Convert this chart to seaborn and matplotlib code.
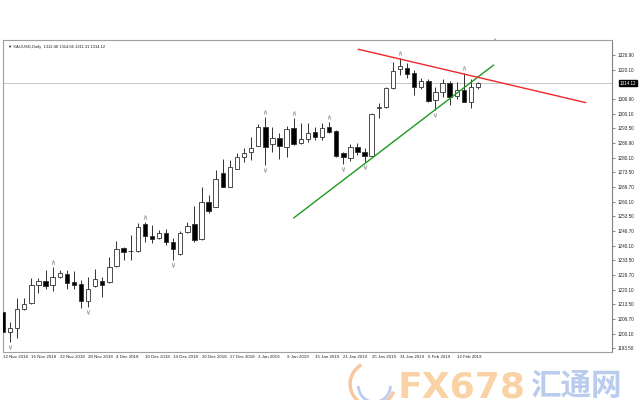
import matplotlib
matplotlib.use("Agg")
import matplotlib.pyplot as plt
import matplotlib.transforms as mtransforms
from matplotlib.patches import Arc
import seaborn as sns
import numpy as np
import pandas as pd

# XAUUSD daily candles, 12 Nov 2018 .. 15 Feb 2019
opens = [1210.0, 1200.6, 1202.4, 1211.1, 1213.8, 1222.2, 1224.0, 1222.2, 1226.0, 1227.0,
         1223.7, 1222.5, 1214.9, 1221.7, 1224.0, 1223.4, 1231.0, 1239.2, 1237.5, 1237.8,
         1249.9, 1244.6, 1243.4, 1246.0, 1241.9, 1236.3, 1246.1, 1249.9, 1243.1, 1260.1,
         1257.8, 1273.0, 1266.9, 1275.0, 1280.6, 1282.6, 1285.6, 1294.0, 1286.4, 1289.0,
         1285.2, 1293.5, 1286.7, 1288.5, 1292.0, 1289.7, 1294.0, 1292.4, 1282.1, 1279.8,
         1284.8, 1282.9, 1280.9, 1302.9, 1303.4, 1311.7, 1320.5, 1321.1, 1318.5, 1312.5,
         1315.2, 1306.4, 1310.2, 1314.0, 1308.2, 1310.9, 1305.6, 1312.48]
highs = [1211.5, 1205.5, 1216.5, 1216.5, 1225.2, 1225.2, 1229.0, 1230.5, 1229.0, 1229.0,
         1228.5, 1224.4, 1226.0, 1229.3, 1225.7, 1235.1, 1242.2, 1239.6, 1244.9, 1250.2,
         1251.0, 1249.5, 1247.2, 1247.5, 1243.4, 1246.9, 1251.0, 1258.1, 1266.9, 1263.1,
         1274.5, 1279.4, 1279.1, 1282.1, 1284.4, 1289.4, 1295.5, 1298.8, 1294.3, 1291.2,
         1294.7, 1298.1, 1295.8, 1295.8, 1294.3, 1295.8, 1296.5, 1292.7, 1282.6, 1286.4,
         1286.7, 1284.4, 1300.6, 1304.9, 1312.5, 1323.6, 1325.4, 1323.1, 1320.1, 1316.3,
         1315.8, 1312.2, 1315.8, 1315.2, 1314.8, 1318.5, 1315.8, 1314.66]
lows = [1199.5, 1196.4, 1197.9, 1210.8, 1213.5, 1218.4, 1220.2, 1219.6, 1225.2, 1220.6,
        1220.2, 1211.5, 1212.0, 1221.1, 1216.8, 1222.9, 1230.5, 1233.5, 1233.5, 1237.3,
        1241.9, 1241.1, 1243.0, 1240.4, 1233.5, 1235.8, 1245.7, 1241.9, 1242.7, 1254.8,
        1257.5, 1266.6, 1266.6, 1274.8, 1278.3, 1279.1, 1285.5, 1276.8, 1282.9, 1279.4,
        1280.3, 1285.9, 1286.4, 1287.4, 1288.2, 1288.2, 1291.2, 1280.6, 1277.3, 1278.8,
        1281.4, 1278.3, 1280.6, 1298.1, 1302.9, 1311.4, 1317.8, 1316.3, 1308.7, 1311.3,
        1305.6, 1301.8, 1307.6, 1304.1, 1306.7, 1305.3, 1302.6, 1311.31]
closes = [1200.9, 1202.4, 1211.1, 1213.4, 1222.2, 1224.0, 1221.7, 1225.7, 1227.5, 1223.2,
          1222.2, 1215.0, 1220.6, 1224.7, 1222.0, 1230.5, 1238.4, 1237.0, 1237.8, 1248.7,
          1244.5, 1243.0, 1245.7, 1241.9, 1238.6, 1245.7, 1249.2, 1242.7, 1259.8, 1255.9,
          1270.3, 1266.9, 1275.8, 1280.3, 1282.4, 1284.7, 1294.3, 1285.2, 1289.0, 1285.5,
          1293.0, 1286.4, 1288.5, 1291.5, 1289.4, 1293.5, 1292.0, 1280.9, 1280.3, 1285.2,
          1282.9, 1281.1, 1300.0, 1303.2, 1311.7, 1319.6, 1322.0, 1318.1, 1312.2, 1315.2,
          1306.1, 1309.9, 1314.3, 1307.9, 1310.9, 1305.6, 1312.2, 1314.12]

# fractal markers (bar index)
up_fractals = [7, 20, 37, 41, 46, 56, 65]
down_fractals = [1, 12, 24, 37, 48, 51, 61]

# trend lines (bar index, price)
support_x = [41.0, 69.2]
support_y = [1252.7, 1322.3]
resist_x = [50.1, 82.2]
resist_y = [1329.5, 1305.2]

last_price = 1314.12
header = "\u25bc XAUUSD,Daily  1312.48 1314.66 1311.31 1314.12"

date_labels = ["12 Nov 2018", "16 Nov 2018", "22 Nov 2018", "28 Nov 2018", "4 Dec 2018",
               "10 Dec 2018", "14 Dec 2018", "20 Dec 2018", "27 Dec 2018", "3 Jan 2019",
               "9 Jan 2019", "15 Jan 2019", "21 Jan 2019", "25 Jan 2019", "31 Jan 2019",
               "6 Feb 2019", "12 Feb 2019"]
price_ticks = [1326.90, 1320.10, 1306.90, 1300.10, 1293.50, 1286.90, 1280.10, 1273.50,
               1266.70, 1260.10, 1253.50, 1246.70, 1240.10, 1233.50, 1226.70, 1220.10,
               1213.50, 1206.70, 1200.10, 1193.50]

sns.set_theme(style="white")
plt.rcParams['font.family'] = ['Liberation Sans', 'DejaVu Sans']

df = pd.DataFrame({"open": opens, "high": highs, "low": lows, "close": closes})
df["idx"] = np.arange(len(df))
df["up"] = df["close"] >= df["open"]

fig = plt.figure(figsize=(6.4, 4.0), dpi=100)
ax = fig.add_axes([3 / 640, 48 / 400, 609 / 640, 312 / 400])

# wicks
ax.vlines(df["idx"], df["low"], df["high"], color="#303030", linewidth=0.7, zorder=2)

# bodies
body_lo = np.minimum(df["open"], df["close"])
body_h = np.maximum(np.abs(df["close"] - df["open"]), 0.25)
colors = np.where(df["up"], "white", "black")
ax.bar(df["idx"], body_h, bottom=body_lo, width=0.62, color=colors,
       edgecolor="#303030", linewidth=0.6, zorder=3)

# fractals
ax.scatter(up_fractals, [highs[i] + 2.3 for i in up_fractals], marker=r"$\wedge$",
           s=8, color="#a0a0a0", linewidths=0.2, zorder=4)
ax.scatter(down_fractals, [lows[i] - 2.3 for i in down_fractals], marker=r"$\vee$",
           s=8, color="#a0a0a0", linewidths=0.2, zorder=4)

# trend lines
sns.lineplot(x=support_x, y=support_y, ax=ax, color="#1c9a1c", linewidth=1.0, zorder=5)
sns.lineplot(x=resist_x, y=resist_y, ax=ax, color="#f0282a", linewidth=1.0, zorder=5)

# last price line
ax.axhline(last_price, color="#c8c8c8", linewidth=0.7, zorder=1)

ax.set_xlim(0.15, 85.9)
ax.set_ylim(1191.7, 1333.7)

ax.set_xticks(np.arange(0, 4 * len(date_labels), 4))
ax.set_xticklabels(date_labels, ha="left", fontsize=3.2, color="#222222")
ax.tick_params(axis="x", length=3, width=0.5, pad=0.5, direction="inout", color="#555555")

ax.yaxis.tick_right()
ax.set_yticks(price_ticks)
ax.set_yticklabels([f"{p:.2f}" for p in price_ticks], fontsize=3.3, color="#222222")
ax.tick_params(axis="y", length=2.5, width=0.5, pad=1.5, direction="out", color="#555555")

for side, sp in ax.spines.items():
    sp.set_color("#a0a0a0")
    sp.set_linewidth(0.8)
ax.spines["right"].set_color("#808080")

trans = mtransforms.blended_transform_factory(ax.transAxes, ax.transData)
ax.text(1.012, last_price, f"{last_price:.2f}", transform=trans, fontsize=3.3, color="white",
        ha="left", va="center",
        bbox=dict(boxstyle="square,pad=0.15", facecolor="black", edgecolor="black"))

ax.text(0.008, 0.985, header, transform=ax.transAxes, fontsize=3.0, color="#222222",
        ha="left", va="top")
ax.text(0.806, 1.0, "\u25bc", transform=ax.transAxes, fontsize=3, color="#a0a0a0",
        ha="center", va="center")

# watermark
fig.add_artist(Arc((0.582, 0.04), 0.07, 0.11, theta1=110, theta2=330,
                   transform=fig.transFigure, color="#f7b98a", linewidth=2.5, alpha=0.8))
fig.add_artist(Arc((0.585, 0.035), 0.05, 0.08, theta1=180, theta2=360,
                   transform=fig.transFigure, color="#a9c1ec", linewidth=2.0, alpha=0.8))
fig.text(0.622, 0.075, "FX678", color="#f9cc96", fontsize=26, fontweight="bold",
         ha="left", va="top", alpha=0.85, family=["DejaVu Sans"])
fig.text(0.828, 0.075, "汇通网", color="#aec4ec", fontsize=22, fontweight="bold",
         ha="left", va="top", family=["Noto Sans CJK SC", "DejaVu Sans"], alpha=0.85)

plt.savefig("out.png", dpi=100)
plt.close()
